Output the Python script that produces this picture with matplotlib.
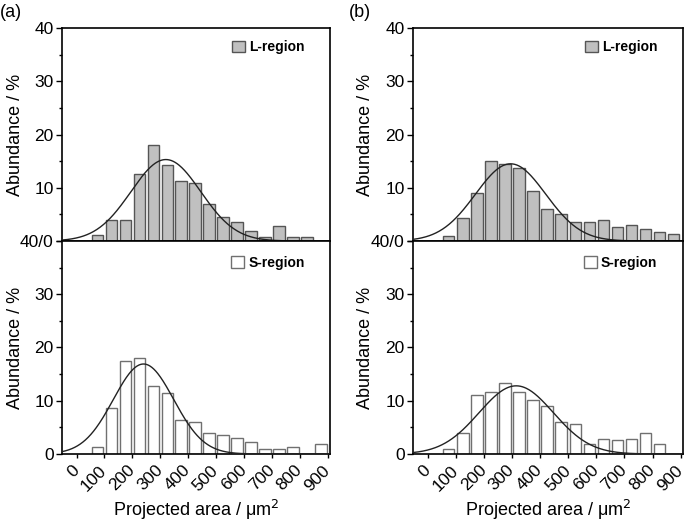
import numpy as np
import matplotlib
matplotlib.use("Agg")
import matplotlib.pyplot as plt
from matplotlib.patches import Patch

plt.rcParams['font.family'] = ['Liberation Sans', 'DejaVu Sans']

# bin centres (um^2), bin width 50
bin_centers = [75, 125, 175, 225, 275, 325, 375, 425, 475, 525,
               575, 625, 675, 725, 775, 825, 875]
x_ticks = [0, 100, 200, 300, 400, 500, 600, 700, 800, 900]

# abundance (%)
a_L = [1.2, 3.9, 3.9, 12.6, 18.0, 14.3, 11.3, 10.9, 6.9, 4.5,
       3.5, 1.8, 0.8, 2.8, 0.8, 0.8, 0.0]
a_S = [1.3, 8.6, 17.4, 18.1, 12.8, 11.4, 6.3, 6.0, 4.0, 3.6,
       3.0, 2.3, 0.9, 0.9, 1.3, 0.0, 1.9]
b_L = [0.9, 4.3, 9.1, 15.1, 14.4, 13.7, 9.4, 6.0, 5.0, 3.6,
       3.6, 4.0, 2.6, 3.0, 2.3, 1.6, 1.3]
b_S = [0.9, 4.0, 11.1, 11.7, 13.4, 11.7, 10.1, 9.0, 6.0, 5.7,
       1.9, 2.9, 2.6, 2.9, 4.0, 1.9, 0.0]

# gaussian fits: (amplitude, centre, sigma)
fit_a_L = (15.3, 320, 125)
fit_a_S = (16.9, 240, 108)
fit_b_L = (14.5, 295, 125)
fit_b_S = (12.8, 315, 132)

fig = plt.figure(figsize=(6.85, 5.22), dpi=100)

lefts = [62 / 685, 413 / 685]
widths = [268 / 685, 270 / 685]
h = 0.408
mid = 0.5383

panels = [
    [(a_L, fit_a_L, 'L-region', '#c0c0c0', '#555555'),
     (a_S, fit_a_S, 'S-region', 'white', '#707070')],
    [(b_L, fit_b_L, 'L-region', '#c0c0c0', '#555555'),
     (b_S, fit_b_S, 'S-region', 'white', '#707070')],
]

xs = np.linspace(-52, 905, 400)

for col, (left, w) in enumerate(zip(lefts, widths)):
    for row, (vals, fit, name, fc, ec) in enumerate(panels[col]):
        bottom = mid if row == 0 else mid - h
        ax = fig.add_axes([left, bottom, w, h])
        ax.bar(bin_centers, vals, width=41, facecolor=fc, edgecolor=ec,
               linewidth=1.0, zorder=2)
        amp, mu, sig = fit
        ax.plot(xs, amp * np.exp(-(xs - mu) ** 2 / (2 * sig ** 2)),
                color='#222222', lw=1.0, zorder=3)
        ax.set_xlim(-52, 908)
        ax.set_ylim(0, 40)
        ax.set_yticks([0, 10, 20, 30, 40])
        ax.set_yticks([5, 15, 25, 35], minor=True)
        ax.tick_params(axis='y', which='major', direction='out', length=4,
                       width=1, labelsize=12.5, pad=2)
        ax.tick_params(axis='y', which='minor', direction='out', length=2.5,
                       width=1)
        ax.set_xticks(x_ticks)
        if row == 0:
            ax.set_yticklabels(['', '10', '20', '30', '40'])
            ax.tick_params(axis='x', which='both', bottom=False,
                           labelbottom=False)
        else:
            ax.set_yticklabels(['0', '10', '20', '30', '40/0'])
            ax.set_xticklabels([f'{t}' for t in x_ticks], rotation=45,
                               ha='right', va='center',
                               rotation_mode='anchor')
            ax.tick_params(axis='x', direction='out', length=3, width=1,
                           labelsize=12.5, pad=7)
            ax.set_xlabel('Projected area / \u03bcm$^2$', fontsize=13,
                          labelpad=3)
        for s in ax.spines.values():
            s.set_linewidth(1.2)
        ax.set_ylabel('Abundance / %', fontsize=13)
        ax.yaxis.set_label_coords(-0.142 if col == 0 else -0.144, 0.5)
        ax.legend(handles=[Patch(facecolor=fc, edgecolor=ec, lw=1)],
                  labels=[name], loc='center right',
                  bbox_to_anchor=(0.905, 0.91 if row == 0 else 0.897),
                  borderaxespad=0, borderpad=0, frameon=False,
                  handlelength=0.9, handleheight=0.9, handletextpad=0.3,
                  prop={'weight': 'bold', 'size': 10})

fig.text(0.0, 0.993, '(a)', fontsize=13, va='top', ha='left')
fig.text(349 / 685, 0.993, '(b)', fontsize=13, va='top', ha='left')

fig.savefig('out.png', dpi=100)
